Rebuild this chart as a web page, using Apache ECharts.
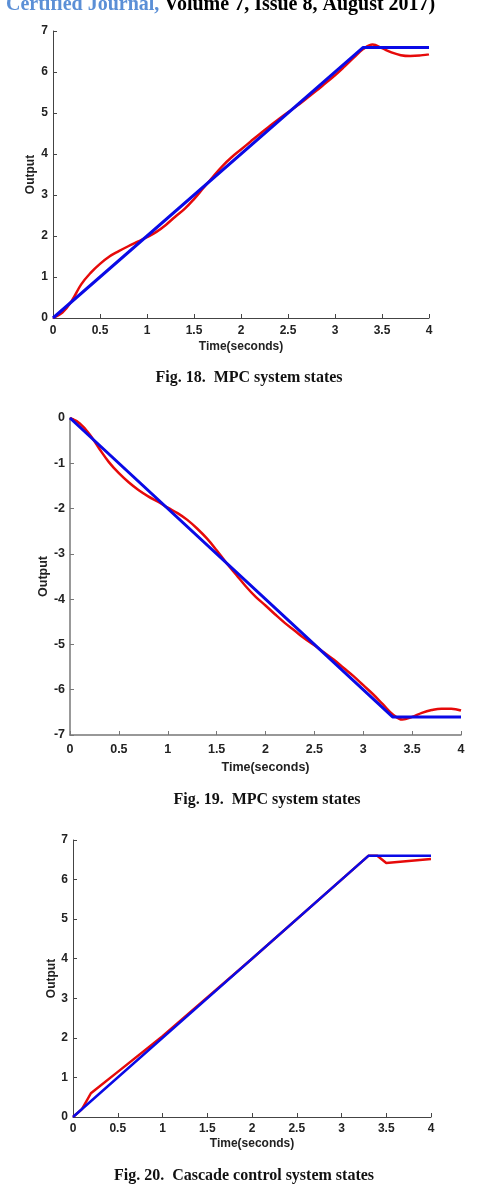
<!DOCTYPE html>
<html><head><meta charset="utf-8">
<script src="https://cdn.jsdelivr.net/npm/echarts@6/dist/echarts.min.js"></script>
<style>html,body{margin:0;padding:0;background:#fff}#c{width:480px;height:1196px}</style>
</head><body><div id="c"></div>
<script>
// ---- data ----
var timeSteps = [0,0.1,0.2,0.3,0.4,0.5,0.6,0.7,0.8,0.9,1.0,1.1,1.2,1.3,1.4,1.5,1.6,1.7,1.8,1.9,2.0,2.1,2.2,2.3,2.4,2.5,2.6,2.7,2.8,2.9,3.0,3.1,3.2,3.3,3.4,3.5,3.6,3.7,3.8,3.9,4.0];
var mpc18 = [0,0.13,0.42,0.82,1.1,1.32,1.5,1.63,1.75,1.86,1.97,2.1,2.27,2.47,2.66,2.9,3.17,3.44,3.7,3.92,4.11,4.3,4.49,4.67,4.85,5.02,5.18,5.36,5.54,5.73,5.92,6.13,6.35,6.56,6.67,6.58,6.48,6.41,6.39,6.4,6.43];
var mpc19 = [0,-0.12,-0.36,-0.68,-0.98,-1.22,-1.42,-1.59,-1.73,-1.85,-1.98,-2.1,-2.25,-2.44,-2.66,-2.92,-3.2,-3.46,-3.72,-3.95,-4.14,-4.34,-4.53,-4.7,-4.87,-5.02,-5.18,-5.34,-5.52,-5.7,-5.9,-6.1,-6.32,-6.54,-6.66,-6.6,-6.51,-6.45,-6.42,-6.42,-6.46];
var refTimes = [0, 3.3, 4];
var ref18 = [0, 6.6, 6.6];
var ref19 = [0, -6.6, -6.6];
var ref20 = [0, 6.6, 6.6];
var cascTimes = [0, 0.1, 0.2, 0.5, 1.0, 1.5, 2.0, 3.3, 3.4, 3.5, 4.0];
var casc20 = [0, 0.2, 0.6, 1.14, 2.04, 3.02, 4.0, 6.6, 6.6, 6.42, 6.52];
var xTicks = {min: 0, max: 4, interval: 0.5};
var captions = ['Fig. 18.  MPC system states', 'Fig. 19.  MPC system states', 'Fig. 20.  Cascade control system states'];
var headerBlue = 'Certified Journal,';
var headerBlack = ' Volume 7, Issue 8, August 2017)';

function pairs(xs, ys){ var o=[]; for (var i=0;i<xs.length;i++) o.push([xs[i], ys[i]]); return o; }

var RED = '#e60a0a', BLUE = '#0a0ae6';
var SANS = '"Liberation Sans", Arial, sans-serif';
var SERIF = '"Liberation Serif", "Times New Roman", serif';

function xAx(gi, fs, gap, margin, axisColor, axisW){
  return {type:'value', gridIndex:gi, min:xTicks.min, max:xTicks.max, interval:xTicks.interval,
    name:'Time(seconds)', nameLocation:'middle', nameGap:gap, nameMoveOverlap:false,
    nameTextStyle:{fontFamily:SANS, fontWeight:'bold', fontSize:fs, color:'#222'},
    axisLine:{show:true, onZero:false, lineStyle:{color:axisColor, width:axisW}},
    axisTick:{show:true, inside:true, length:4, lineStyle:{color:axisColor, width:1}},
    axisLabel:{fontFamily:SANS, fontWeight:'bold', fontSize:fs, color:'#222', margin:margin},
    splitLine:{show:false}};
}
function yAx(gi, min, max, fs, gap, axisColor, axisW){
  return {type:'value', gridIndex:gi, min:min, max:max, interval:1,
    name:'Output', nameLocation:'middle', nameGap:gap, nameMoveOverlap:false,
    nameTextStyle:{fontFamily:SANS, fontWeight:'bold', fontSize:fs, color:'#222'},
    axisLine:{show:true, onZero:false, lineStyle:{color:axisColor, width:axisW}},
    axisTick:{show:true, inside:true, length:4, lineStyle:{color:axisColor, width:1}},
    axisLabel:{fontFamily:SANS, fontWeight:'bold', fontSize:fs, color:'#222', margin:5},
    splitLine:{show:false}};
}
function line(gi, data, color, w, smooth, z){
  return {type:'line', xAxisIndex:gi, yAxisIndex:gi, data:data, showSymbol:false, symbol:'none',
    smooth:smooth, lineStyle:{color:color, width:w}, z:z, animation:false};
}

var chart = echarts.init(document.getElementById('c'), null, {renderer:'canvas'});
chart.setOption({
  animation:false,
  backgroundColor:'#fff',
  grid:[
    {left:53, top:31, width:376, height:287},
    {left:70, top:418, width:391, height:317},
    {left:73, top:840, width:358, height:277}
  ],
  xAxis:[xAx(0, 12, 23, 7, '#444', 1), xAx(1, 12.5, 26, 8, '#777', 1.5), xAx(2, 12, 21, 6, '#444', 1)],
  yAxis:[yAx(0, 0, 7, 12, 16, '#444', 1), yAx(1, -7, 0, 12.5, 20, '#777', 1.5), yAx(2, 0, 7, 12, 15, '#444', 1)],
  series:[
    line(0, pairs(timeSteps, mpc18), RED, 2.5, 0.4, 2),
    line(0, pairs(refTimes, ref18), BLUE, 3, false, 3),
    line(1, pairs(timeSteps, mpc19), RED, 2.5, 0.4, 2),
    line(1, pairs(refTimes, ref19), BLUE, 3, false, 3),
    line(2, pairs(cascTimes, casc20), RED, 2.5, false, 2),
    line(2, pairs(refTimes, ref20), BLUE, 2.5, false, 3)
  ],
  graphic:[
    {type:'text', x:6, y:15, style:{
      text:'{a|'+headerBlue+'}{b|'+headerBlack+'}', verticalAlign:'bottom',
      rich:{a:{fontFamily:SERIF, fontWeight:'bold', fontSize:20, fill:'#5b8fd6', lineHeight:20},
            b:{fontFamily:SERIF, fontWeight:'bold', fontSize:20, fill:'#000', lineHeight:20}}}},
    {type:'text', x:249, y:378, style:{text:captions[0], fontFamily:SERIF, fontWeight:'bold', fontSize:16, fill:'#111', align:'center', verticalAlign:'middle'}},
    {type:'text', x:267, y:800, style:{text:captions[1], fontFamily:SERIF, fontWeight:'bold', fontSize:16, fill:'#111', align:'center', verticalAlign:'middle'}},
    {type:'text', x:244, y:1176, style:{text:captions[2], fontFamily:SERIF, fontWeight:'bold', fontSize:16, fill:'#111', align:'center', verticalAlign:'middle'}}
  ]
});
</script></body></html>
